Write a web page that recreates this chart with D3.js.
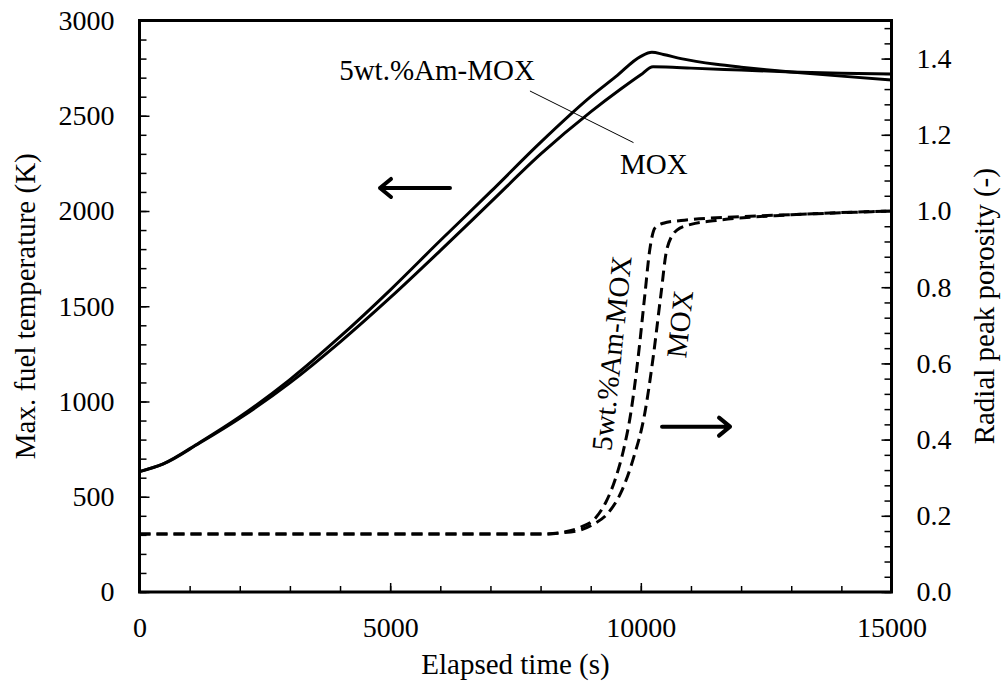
<!DOCTYPE html>
<html>
<head>
<meta charset="utf-8">
<script src="https://cdn.jsdelivr.net/npm/d3@7"></script>
<style>
  body { margin: 0; background: #fff; }
  svg text { font-family: "Liberation Serif", "Times New Roman", serif; fill: #000; }
</style>
</head>
<body>
<div id="chart"></div>
<script>
// max fuel temperature (K), left axis
const amTempTime = [0, 475, 1200, 2000, 3000, 4000, 5000, 6000, 7000, 8000, 9000, 9500, 10000, 10220, 10450, 10800, 11500, 12000, 12500, 13000, 14000, 15000];
const amTemp     = [632, 673, 785, 920, 1115, 1340, 1585, 1845, 2100, 2360, 2600, 2705, 2812, 2833, 2822, 2800, 2770, 2755, 2742, 2730, 2708, 2688];
const moxTempTime = [0, 475, 1200, 2000, 3000, 4000, 5000, 6000, 7000, 8000, 9000, 9600, 10000, 10243, 10500, 11000, 12000, 13000, 14000, 15000];
const moxTemp     = [632, 672, 782, 912, 1098, 1312, 1545, 1792, 2045, 2298, 2520, 2640, 2715, 2757, 2756, 2750, 2740, 2730, 2723, 2719];

// radial peak porosity (-), right axis
const amPorTime = [0, 8000, 8400, 8800, 9100, 9300, 9500, 9650, 9800, 9950, 10080, 10180, 10280, 10450, 10800, 12000, 13500, 15000];
const amPor     = [0.152, 0.152, 0.156, 0.170, 0.195, 0.235, 0.30, 0.37, 0.47, 0.62, 0.78, 0.90, 0.955, 0.968, 0.975, 0.985, 0.993, 1.0];
const moxPorTime = [0, 8000, 8400, 8800, 9026, 9345, 9600, 9850, 10080, 10250, 10400, 10520, 10720, 11000, 11500, 13000, 15000];
const moxPor     = [0.152, 0.152, 0.155, 0.163, 0.176, 0.207, 0.26, 0.35, 0.47, 0.62, 0.78, 0.90, 0.95, 0.965, 0.975, 0.99, 1.0];

// axis ticks
const xTicks = [0, 5000, 10000, 15000];
const yLeftTicks = [0, 500, 1000, 1500, 2000, 2500, 3000];
const yRightTicks = [0, 0.2, 0.4, 0.6, 0.8, 1.0, 1.2, 1.4];

const width = 1002, height = 683;
const margin = { top: 20.5, right: 110.5, bottom: 91, left: 139.5 };
const w = width - margin.left - margin.right;
const h = height - margin.top - margin.bottom;

const svg = d3.select("#chart").append("svg")
    .attr("width", width)
    .attr("height", height);

const g = svg.append("g")
    .attr("transform", "translate(" + margin.left + "," + margin.top + ")");

const x = d3.scaleLinear().domain([0, 15000]).range([0, w]);
const yL = d3.scaleLinear().domain([0, 3000]).range([h, 0]);
const yR = d3.scaleLinear().domain([0, 1.5]).range([h, 0]);

const fontSize = 28;

// minor ticks
g.append("g").attr("class", "minor")
    .attr("transform", "translate(0," + h + ")")
    .call(d3.axisBottom(x).tickValues(d3.range(0, 15001, 1000)).tickSize(-6).tickSizeOuter(0).tickFormat(""));
g.append("g").attr("class", "minor")
    .call(d3.axisLeft(yL).tickValues(d3.range(0, 3001, 100)).tickSize(-7).tickSizeOuter(0).tickFormat(""));
g.append("g").attr("class", "minor")
    .attr("transform", "translate(" + w + ",0)")
    .call(d3.axisRight(yR).tickValues(d3.range(0, 1.5001, 0.04)).tickSize(-7).tickSizeOuter(0).tickFormat(""));

// major ticks
g.append("g").attr("class", "major")
    .attr("transform", "translate(0," + h + ")")
    .call(d3.axisBottom(x).tickValues(xTicks).tickSize(-9).tickSizeOuter(0).tickPadding(25).tickFormat(d3.format("d")));
g.append("g").attr("class", "major")
    .call(d3.axisLeft(yL).tickValues(yLeftTicks).tickSize(-10).tickSizeOuter(0).tickPadding(25).tickFormat(d3.format("d")));
g.append("g").attr("class", "major")
    .attr("transform", "translate(" + w + ",0)")
    .call(d3.axisRight(yR).tickValues(yRightTicks).tickSize(-10).tickSizeOuter(0).tickPadding(25).tickFormat(d3.format(".1f")));

g.selectAll(".domain").remove();
g.selectAll(".tick line").attr("stroke", "#000").attr("stroke-width", 1.5);
g.selectAll(".tick text").style("font-size", fontSize + "px");

// frame
g.append("rect")
    .attr("width", w)
    .attr("height", h)
    .attr("fill", "none")
    .attr("stroke", "#000")
    .attr("stroke-width", 3);

// curves
const tempLine = d3.line()
    .x(d => x(d[0]))
    .y(d => yL(d[1]))
    .curve(d3.curveMonotoneX);
const porLine = d3.line()
    .x(d => x(d[0]))
    .y(d => yR(d[1]))
    .curve(d3.curveMonotoneX);

const series = [
    { t: amTempTime, v: amTemp, line: tempLine, dash: null },
    { t: moxTempTime, v: moxTemp, line: tempLine, dash: null },
    { t: amPorTime, v: amPor, line: porLine, dash: "11,6" },
    { t: moxPorTime, v: moxPor, line: porLine, dash: "11,6" }
];

series.forEach(s => {
    g.append("path")
        .datum(s.t.map((t, i) => [t, s.v[i]]))
        .attr("fill", "none")
        .attr("stroke", "#000")
        .attr("stroke-width", 3)
        .attr("stroke-dasharray", s.dash)
        .attr("d", s.line);
});

// annotations (positions in data units)
g.append("text")
    .attr("x", x(7887)).attr("y", yL(2688))
    .attr("text-anchor", "end")
    .style("font-size", "29px")
    .text("5wt.%Am-MOX");

g.append("line")
    .attr("x1", x(7788)).attr("y1", yL(2630))
    .attr("x2", x(9854)).attr("y2", yL(2359))
    .attr("stroke", "#000")
    .attr("stroke-width", 1);

g.append("text")
    .attr("x", x(9585)).attr("y", yL(2194))
    .style("font-size", "29px")
    .text("MOX");

g.append("text")
    .attr("transform", "translate(" + x(9417) + "," + yR(0.627) + ") rotate(-84)")
    .attr("text-anchor", "middle")
    .attr("dominant-baseline", "central")
    .style("font-size", "29px")
    .text("5wt.%Am-MOX");

g.append("text")
    .attr("transform", "translate(" + x(10773) + "," + yR(0.703) + ") rotate(-84)")
    .attr("text-anchor", "middle")
    .attr("dominant-baseline", "central")
    .style("font-size", "29px")
    .text("MOX");

// arrows
function arrow(x1, y1, x2, y2) {
    const dir = Math.sign(x2 - x1);
    g.append("path")
        .attr("d", "M" + x1 + "," + y1 + "L" + x2 + "," + y2 +
            "M" + (x2 - dir * 11) + "," + (y2 - 9) + "L" + x2 + "," + y2 + "L" + (x2 - dir * 11) + "," + (y2 + 9))
        .attr("fill", "none")
        .attr("stroke", "#000")
        .attr("stroke-width", 4)
        .attr("stroke-linecap", "round")
        .attr("stroke-linejoin", "round");
}
arrow(x(6193), yL(2121), x(4797), yL(2121));
arrow(x(10423), yR(0.434), x(11779), yR(0.434));

// axis titles
svg.append("text")
    .attr("x", margin.left + w / 2)
    .attr("y", 674)
    .attr("text-anchor", "middle")
    .style("font-size", "29px")
    .text("Elapsed time (s)");

svg.append("text")
    .attr("transform", "translate(35," + (margin.top + h / 2) + ") rotate(-90)")
    .attr("text-anchor", "middle")
    .style("font-size", "29px")
    .text("Max. fuel temperature (K)");

svg.append("text")
    .attr("transform", "translate(994," + (margin.top + h / 2) + ") rotate(-90)")
    .attr("text-anchor", "middle")
    .style("font-size", "29px")
    .text("Radial peak porosity (-)");
</script>
</body>
</html>
